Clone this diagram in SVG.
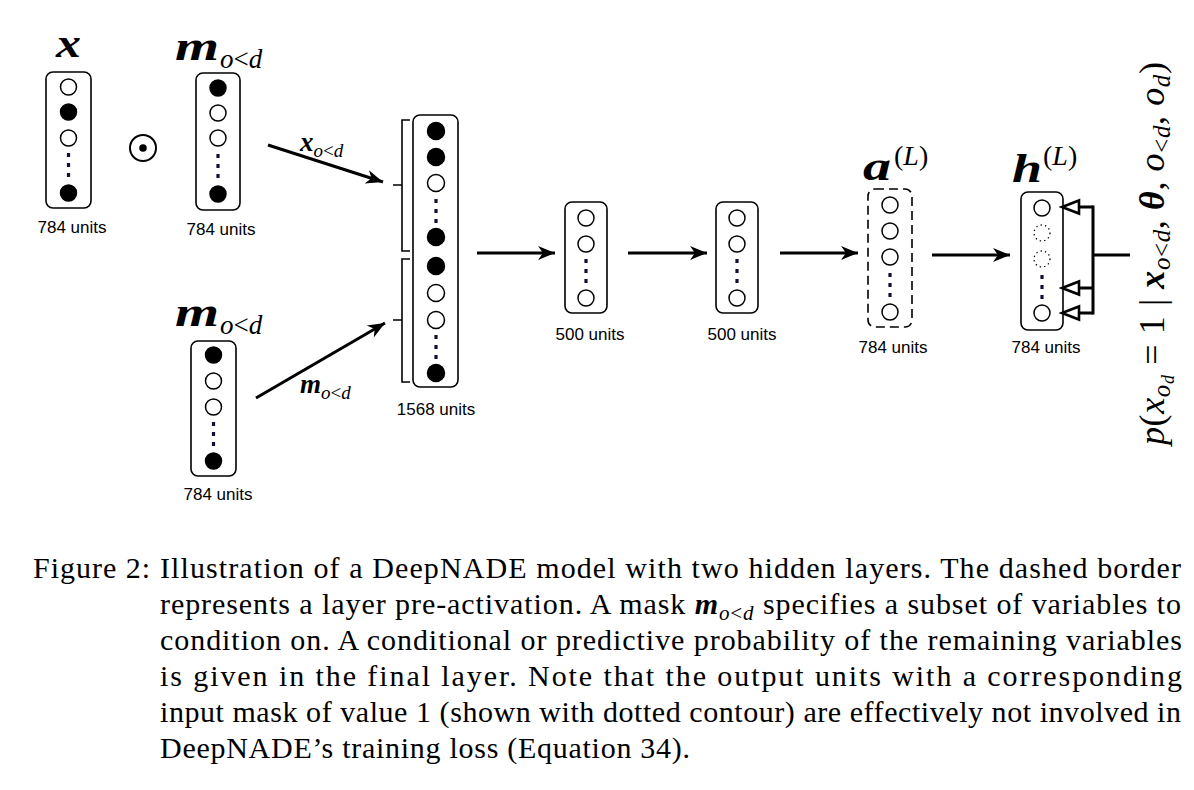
<svg xmlns="http://www.w3.org/2000/svg" xmlns:xlink="http://www.w3.org/1999/xlink" width="1194" height="790" viewBox="0 0 1194 790">
<style>
.box{fill:#fff;stroke:#000;stroke-width:1.6}
.dbox{fill:#fff;stroke:#000;stroke-width:1.6;stroke-dasharray:9 5}
.o{fill:#fff;stroke:#000;stroke-width:1.5}
.f{fill:#000;stroke:#000;stroke-width:1.5}
.dc{fill:none;stroke:#000;stroke-width:1.3;stroke-dasharray:1.3 3.2}
.u{font-family:"Liberation Sans",Arial,sans-serif;font-size:17px;text-anchor:middle;fill:#000}
.m{font-family:"Liberation Serif","Times New Roman",serif;fill:#000}
.bi{font-weight:bold;font-style:italic}
.it{font-style:italic}
.cap{font-family:"Liberation Serif","Times New Roman",serif;font-size:30px;fill:#000}
.ln{stroke:#000;stroke-width:3;fill:none}
.br{stroke:#000;stroke-width:1.6;fill:none}
</style>
<defs>
<marker id="ah" markerUnits="userSpaceOnUse" markerWidth="20" markerHeight="16" viewBox="-18 -8 20 16" refX="0" refY="0" orient="auto">
<path d="M0,0 L-17,-7 L-12,0 L-17,7 Z" fill="#000"/>
</marker>
<marker id="oh" markerUnits="userSpaceOnUse" markerWidth="24" markerHeight="18" viewBox="-21 -9 24 18" refX="0" refY="0" orient="auto">
<path d="M0,0 L-17,-6.5 L-17,6.5 Z" fill="#fff" stroke="#000" stroke-width="2.6" stroke-linejoin="miter"/>
</marker>
<g id="vd"><rect x="-1.6" y="0" width="3.2" height="4"/><rect x="-1.6" y="10" width="3.2" height="4"/><rect x="-1.6" y="20" width="3.2" height="4"/></g>
</defs>

<g id="node-x">
<text class="m bi" x="56" y="57" font-size="40" textLength="25" lengthAdjust="spacingAndGlyphs">x</text>
<rect class="box" x="46" y="72" width="45" height="136" rx="7"/>
<circle class="o" cx="68.5" cy="87" r="8"/>
<circle class="f" cx="68.5" cy="112" r="8"/>
<circle class="o" cx="68.5" cy="138" r="8"/>
<use xlink:href="#vd" x="68.5" y="153" fill="#111133"/>
<circle class="f" cx="68.5" cy="193" r="8"/>
<text class="u" x="72" y="233">784 units</text>
</g>

<g id="odot">
<circle cx="143" cy="148" r="13" fill="none" stroke="#000" stroke-width="2"/>
<circle cx="143" cy="148" r="3.8" fill="#000"/>
</g>

<g id="node-m1">
<text class="m bi" x="175" y="60" font-size="40" textLength="44" lengthAdjust="spacingAndGlyphs">m</text>
<text class="m" x="220" y="68" font-size="27"><tspan class="it">o</tspan>&lt;<tspan class="it">d</tspan></text>
<rect class="box" x="196" y="73" width="44" height="137" rx="7"/>
<circle class="f" cx="218" cy="88" r="8"/>
<circle class="o" cx="218" cy="113" r="8"/>
<circle class="o" cx="218" cy="138" r="8"/>
<use xlink:href="#vd" x="218" y="154" fill="#111133"/>
<circle class="f" cx="218" cy="194" r="8"/>
<text class="u" x="221" y="235">784 units</text>
</g>

<g id="node-m2">
<text class="m bi" x="175" y="326" font-size="40" textLength="44" lengthAdjust="spacingAndGlyphs">m</text>
<text class="m" x="220" y="334" font-size="27"><tspan class="it">o</tspan>&lt;<tspan class="it">d</tspan></text>
<rect class="box" x="191" y="341" width="45" height="135" rx="7"/>
<circle class="f" cx="213.5" cy="355" r="8"/>
<circle class="o" cx="213.5" cy="381" r="8"/>
<circle class="o" cx="213.5" cy="407" r="8"/>
<use xlink:href="#vd" x="213.5" y="422" fill="#111133"/>
<circle class="f" cx="213.5" cy="461" r="8"/>
<text class="u" x="218" y="500">784 units</text>
</g>

<g id="node-concat">
<path class="br" d="M410,120 H402 V251 H410 M393,185 H402"/>
<path class="br" d="M410,259 H402 V382 H410 M393,320 H402"/>
<rect class="box" x="413" y="115" width="45" height="272" rx="7"/>
<circle class="f" cx="436" cy="131" r="8.5"/>
<circle class="f" cx="436" cy="157" r="8.5"/>
<circle class="o" cx="436" cy="183" r="8.5"/>
<use xlink:href="#vd" x="436" y="199" fill="#111133"/>
<circle class="f" cx="436" cy="237" r="8.5"/>
<circle class="f" cx="436" cy="266" r="8.5"/>
<circle class="o" cx="436" cy="293" r="8.5"/>
<circle class="o" cx="436" cy="320" r="8.5"/>
<use xlink:href="#vd" x="436" y="335" fill="#111133"/>
<circle class="f" cx="436" cy="373" r="8.5"/>
<text class="u" x="436" y="415">1568 units</text>
</g>

<g id="node-h1">
<rect class="box" x="565" y="202" width="42" height="111" rx="7"/>
<circle class="o" cx="586" cy="218" r="8"/>
<circle class="o" cx="586" cy="244" r="8"/>
<use xlink:href="#vd" x="586" y="259" fill="#111133"/>
<circle class="o" cx="586" cy="298" r="8"/>
<text class="u" x="590" y="340">500 units</text>
</g>

<g id="node-h2">
<rect class="box" x="716" y="202" width="42" height="111" rx="7"/>
<circle class="o" cx="737" cy="218" r="8"/>
<circle class="o" cx="737" cy="244" r="8"/>
<use xlink:href="#vd" x="737" y="259" fill="#111133"/>
<circle class="o" cx="737" cy="298" r="8"/>
<text class="u" x="742" y="340">500 units</text>
</g>

<g id="node-a">
<text class="m bi" x="863" y="180" font-size="40" textLength="28" lengthAdjust="spacingAndGlyphs">a</text>
<text class="m" x="894" y="165" font-size="28">(<tspan class="it">L</tspan>)</text>
<rect class="dbox" x="868" y="189" width="44" height="138" rx="7"/>
<circle class="o" cx="890" cy="205" r="8"/>
<circle class="o" cx="890" cy="231" r="8"/>
<circle class="o" cx="890" cy="257" r="8"/>
<use xlink:href="#vd" x="890" y="273" fill="#111133"/>
<circle class="o" cx="890" cy="312" r="8"/>
<text class="u" x="893" y="353">784 units</text>
</g>

<g id="node-h">
<text class="m bi" x="1012" y="182" font-size="40" textLength="30" lengthAdjust="spacingAndGlyphs">h</text>
<text class="m" x="1043" y="165" font-size="28">(<tspan class="it">L</tspan>)</text>
<rect class="box" x="1021" y="192" width="42" height="138" rx="7"/>
<circle class="o" cx="1042" cy="208" r="8"/>
<circle class="dc" cx="1042" cy="233" r="8"/>
<circle class="dc" cx="1042" cy="259" r="8"/>
<use xlink:href="#vd" x="1042" y="275" fill="#111133"/>
<circle class="o" cx="1042" cy="313" r="8"/>
<text class="u" x="1046" y="353">784 units</text>
</g>

<g id="connectors">
<line class="ln" x1="268" y1="145" x2="383" y2="182" marker-end="url(#ah)"/>
<line class="ln" x1="256" y1="398" x2="385" y2="323" marker-end="url(#ah)"/>
<line class="ln" x1="477" y1="253" x2="555" y2="253" marker-end="url(#ah)"/>
<line class="ln" x1="628" y1="253" x2="707" y2="253" marker-end="url(#ah)"/>
<line class="ln" x1="780" y1="253" x2="858" y2="253" marker-end="url(#ah)"/>
<line class="ln" x1="932" y1="255" x2="1010" y2="255" marker-end="url(#ah)"/>
<path class="ln" d="M1130,255 H1093 M1093,205.5 V314.5"/>
<line class="ln" x1="1093" y1="207" x2="1062" y2="207" marker-end="url(#oh)"/>
<line class="ln" x1="1093" y1="288" x2="1062" y2="288" marker-end="url(#oh)"/>
<line class="ln" x1="1093" y1="313" x2="1062" y2="313" marker-end="url(#oh)"/>
<text class="m" x="300" y="151"><tspan class="bi" font-size="27">x</tspan><tspan class="it" font-size="19" dy="6">o</tspan><tspan font-size="19">&lt;</tspan><tspan class="it" font-size="19">d</tspan></text>
<text class="m" x="300" y="393"><tspan class="bi" font-size="27">m</tspan><tspan class="it" font-size="19" dy="6">o</tspan><tspan font-size="19">&lt;</tspan><tspan class="it" font-size="19">d</tspan></text>
</g>

<g id="output-label">
<text class="m" font-size="36" transform="translate(1164,445) rotate(-90)" textLength="383"><tspan class="it">p</tspan>(<tspan class="it">x</tspan><tspan class="it" font-size="25" dy="6">o</tspan><tspan class="it" font-size="18" dy="4">d</tspan><tspan dy="-10"> = 1 | </tspan><tspan class="bi">x</tspan><tspan class="it" font-size="25" dy="6">o</tspan><tspan font-size="25">&lt;</tspan><tspan class="it" font-size="25">d</tspan><tspan dy="-6">, </tspan><tspan class="bi">θ</tspan>, <tspan class="it">o</tspan><tspan font-size="25" dy="6">&lt;</tspan><tspan class="it" font-size="25">d</tspan><tspan dy="-6">, </tspan><tspan class="it">o</tspan><tspan class="it" font-size="25" dy="6">d</tspan><tspan dy="-6">)</tspan></text>
</g>

<g id="caption">
<text class="cap" x="33" y="578" textLength="117" lengthAdjust="spacing">Figure 2:</text>
<text class="cap" x="160" y="578" textLength="1021" lengthAdjust="spacing">Illustration of a DeepNADE model with two hidden layers. The dashed border</text>
<text class="cap" x="160" y="614" textLength="1021" lengthAdjust="spacing">represents a layer pre-activation. A mask <tspan class="bi">m</tspan><tspan class="it" font-size="21" dy="6">o</tspan><tspan font-size="21">&lt;</tspan><tspan class="it" font-size="21">d</tspan><tspan dy="-6"> specifies a subset of variables to</tspan></text>
<text class="cap" x="160" y="650" textLength="1022" lengthAdjust="spacing">condition on. A conditional or predictive probability of the remaining variables</text>
<text class="cap" x="160" y="686" textLength="1022" lengthAdjust="spacing">is given in the final layer. Note that the output units with a corresponding</text>
<text class="cap" x="160" y="722" textLength="1021" lengthAdjust="spacing">input mask of value 1 (shown with dotted contour) are effectively not involved in</text>
<text class="cap" x="160" y="758" textLength="530" lengthAdjust="spacing">DeepNADE’s training loss (Equation 34).</text>
</g>
</svg>
